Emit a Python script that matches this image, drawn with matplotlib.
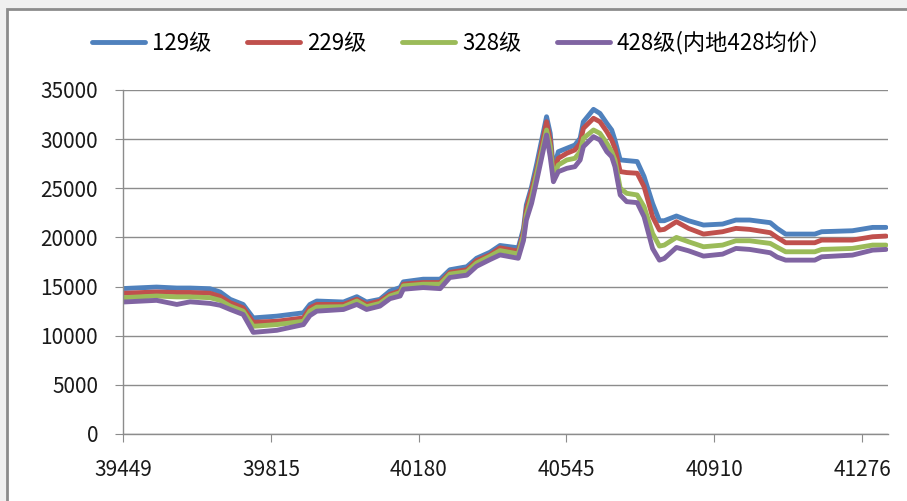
import matplotlib
matplotlib.use("Agg")
import matplotlib.pyplot as plt
from matplotlib.patches import Rectangle

# Excel serial dates (x) and price series
dates = [39450, 39532, 39582, 39615, 39664, 39689, 39714, 39746, 39771, 39829,
         39895, 39911, 39928, 39994, 40027, 40051, 40084, 40109, 40134, 40142,
         40191, 40233, 40257, 40299, 40323, 40356, 40381, 40426, 40439, 40446,
         40459, 40472, 40496, 40505, 40513, 40525, 40546, 40566, 40579, 40587,
         40612, 40628, 40645, 40657, 40665, 40678, 40694, 40720, 40737, 40758,
         40775, 40787, 40817, 40847, 40884, 40931, 40964, 40998, 41049, 41066,
         41087, 41159, 41176, 41252, 41302, 41335]

grade_129 = [14800, 14950, 14850, 14850, 14780, 14450, 13700, 13180, 11810, 11990,
             12330, 13180, 13530, 13430, 13970, 13430, 13700, 14550, 14900, 15480,
             15750, 15750, 16710, 17020, 17880, 18490, 19180, 18940, 20900, 23300,
             25160, 27540, 32280, 30590, 26860, 28720, 29070, 29400, 30080, 31770,
             33030, 32620, 31600, 30930, 29910, 27890, 27820, 27720, 26190, 23470,
             21700, 21700, 22180, 21700, 21260, 21360, 21770, 21770, 21500, 20920,
             20340, 20340, 20580, 20680, 21020, 21020]

grade_229 = [14320, 14450, 14400, 14400, 14320, 14000, 13360, 12840, 11370, 11470,
             11810, 12840, 13180, 13180, 13700, 13180, 13530, 14210, 14550, 15240,
             15410, 15410, 16440, 16710, 17640, 18220, 18940, 18600, 20550, 22790,
             24820, 26850, 31770, 29910, 26520, 28050, 28560, 28900, 29570, 31100,
             32120, 31770, 30760, 29910, 29070, 26700, 26600, 26530, 25170, 22110,
             20750, 20820, 21600, 20920, 20340, 20580, 20920, 20820, 20480, 20000,
             19460, 19460, 19730, 19730, 20070, 20140]

grade_328 = [13870, 14040, 13950, 13950, 13870, 13600, 13010, 12500, 10960, 11130,
             11470, 12500, 12910, 12950, 13530, 12950, 13290, 14040, 14380, 15070,
             15240, 15240, 16270, 16510, 17400, 18080, 18660, 18320, 20210, 22280,
             24140, 26520, 30930, 29230, 26180, 27370, 27880, 28050, 28720, 30080,
             30930, 30590, 29570, 28720, 27880, 25000, 24490, 24320, 23130, 20410,
             19120, 19220, 20000, 19560, 19050, 19220, 19660, 19660, 19390, 19000,
             18540, 18540, 18780, 18880, 19220, 19220]

grade_428 = [13430, 13600, 13180, 13450, 13290, 13100, 12670, 12160, 10340, 10550,
             11130, 12050, 12500, 12670, 13180, 12670, 13010, 13770, 14040, 14730,
             14900, 14790, 15920, 16160, 17060, 17740, 18220, 17880, 19690, 21770,
             23470, 25840, 30420, 28210, 25670, 26690, 27030, 27200, 27880, 29230,
             30250, 29910, 28720, 28210, 27200, 24320, 23640, 23540, 22110, 18880,
             17690, 17860, 18980, 18640, 18100, 18300, 18880, 18780, 18440, 18000,
             17690, 17690, 18030, 18200, 18710, 18780]

labels = ["129级", "229级", "328级", "428级(内地428均价）"]
colors = ["#4F81BD", "#C0504D", "#9BBB59", "#8064A2"]
x_ticks = [39449, 39815, 40180, 40545, 40910, 41276]
y_ticks = [0, 5000, 10000, 15000, 20000, 25000, 30000, 35000]

plt.rcParams['font.family'] = ['Noto Sans CJK SC', 'DejaVu Sans']

fig = plt.figure(figsize=(9.07, 5.01), dpi=100, facecolor="#f0f0f0")

# white chart area with the grey frame on the left and top
fig.patches.append(Rectangle((7 / 907, -0.05), 1.0, 1 - 9 / 501 + 0.05,
                             transform=fig.transFigure, facecolor="white",
                             edgecolor="#8c8c8c", linewidth=2, zorder=-5))

ax = fig.add_axes([123 / 907, 67 / 501, (888 - 123) / 907, (434 - 90) / 501])
ax.set_facecolor("none")
ax.set_zorder(2)

series = [grade_129, grade_229, grade_328, grade_428]
for vals, lab, col in zip(series, labels, colors):
    ax.plot(dates, vals, color=col, linewidth=3.5, label=lab,
            solid_joinstyle="round", solid_capstyle="round")

ax.set_xlim(39449, 41340)
ax.set_ylim(0, 35000)
ax.set_xticks(x_ticks)
ax.set_yticks(y_ticks)
ax.yaxis.grid(True, color="#8c8c8c", linewidth=1)
ax.set_axisbelow(True)

for side in ["top", "right"]:
    ax.spines[side].set_visible(False)
for side in ["left", "bottom"]:
    ax.spines[side].set_color("#8c8c8c")
    ax.spines[side].set_linewidth(1)

ax.tick_params(axis="both", direction="out", length=6, color="#8c8c8c",
               labelsize=15, labelcolor="#1a1a1a")
ax.tick_params(axis="x", pad=12)
ax.tick_params(axis="y", pad=12)

fig.legend(loc="center", bbox_to_anchor=(462 / 907, 1 - 43 / 501), ncol=4,
           frameon=False, fontsize=16, handlelength=2.4, handletextpad=0.3,
           columnspacing=1.6)

fig.savefig("out.png", dpi=100, facecolor=fig.get_facecolor())
